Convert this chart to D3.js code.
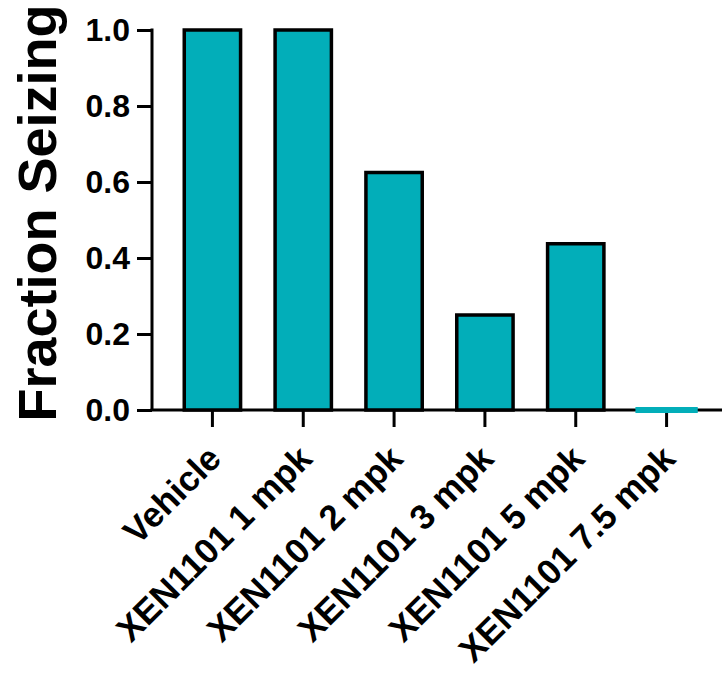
<!DOCTYPE html>
<html>
<head>
<meta charset="utf-8">
<script src="https://cdn.jsdelivr.net/npm/d3@7"></script>
<style>
  body { margin: 0; background: #fff; }
  svg { display: block; font-family: Arial, "Liberation Sans", sans-serif; font-weight: bold; }
</style>
</head>
<body>
<svg width="722" height="674"></svg>
<script>
// groups on the x axis and their fraction seizing
let groups = ["Vehicle", "XEN1101 1 mpk", "XEN1101 2 mpk", "XEN1101 3 mpk", "XEN1101 5 mpk", "XEN1101 7.5 mpk"];
let fractions = [1.0, 1.0, 0.625, 0.25, 0.4375, 0];
let yTicks = [0, 0.2, 0.4, 0.6, 0.8, 1.0];

let margin = ({top: 30, left: 152, bottom: 410});
let teal = "#02aeb9";

let svg = d3.select("svg");

let x = d3.scaleBand(groups, [167, 712]).paddingInner(0.38).paddingOuter(0.19);
let y = d3.scaleLinear([0, 1], [margin.bottom, margin.top]);

// y axis
let yAxis = svg.append("g")
    .attr("transform", `translate(${margin.left},0)`)
    .call(d3.axisLeft(y).tickValues(yTicks).tickFormat(d3.format(".1f")).tickSize(15).tickPadding(7).tickSizeOuter(0));
yAxis.select(".domain").attr("stroke-width", 3).attr("d", `M0,${margin.top - 1.5}V${margin.bottom}`);
yAxis.selectAll(".tick line").attr("stroke-width", 3);
yAxis.selectAll(".tick text").attr("font-size", 32).attr("font-weight", "bold").attr("fill", "#000")
    .attr("font-family", "Arial, 'Liberation Sans', sans-serif");

// x axis
let xAxis = svg.append("g")
    .attr("transform", `translate(0,${margin.bottom})`)
    .call(d3.axisBottom(x).tickSize(17).tickSizeOuter(0));
xAxis.select(".domain").attr("stroke-width", 3).attr("d", `M${margin.left - 1.5},0H722`);
xAxis.selectAll(".tick line").attr("stroke-width", 3);
xAxis.selectAll(".tick text")
    .attr("font-size", 35).attr("font-weight", "bold").attr("fill", "#000")
    .attr("font-family", "Arial, 'Liberation Sans', sans-serif")
    .attr("text-anchor", "end")
    .attr("y", 0)
    .attr("dy", "0.35em")
    .attr("transform", "translate(2,42) rotate(-45)");

// bars
svg.append("g")
    .selectAll("rect")
    .data(groups.map((g, i) => ({g, v: fractions[i]})))
    .join("rect")
    .attr("x", d => x(d.g))
    .attr("width", x.bandwidth())
    .attr("y", d => y(d.v))
    .attr("height", d => Math.max(y(0) - y(d.v), 0.01))
    .attr("fill", teal)
    .attr("stroke", d => d.v === 0 ? teal : "#000")
    .attr("stroke-width", d => d.v === 0 ? 6 : 3.5);

// y title
svg.append("text")
    .attr("transform", `translate(56,213) rotate(-90)`)
    .attr("text-anchor", "middle")
    .attr("font-size", 54)
    .text("Fraction Seizing");
</script>
</body>
</html>
